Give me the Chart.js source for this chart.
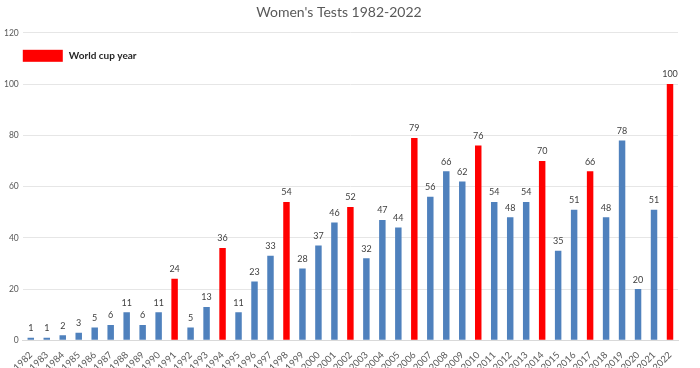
<!DOCTYPE html>
<html>
<head>
<meta charset="utf-8">
<script src="https://cdn.jsdelivr.net/npm/chart.js@4/dist/chart.umd.min.js"></script>
<style>
  html, body { margin: 0; padding: 0; background: #fff; }
  #wrap { width: 700px; height: 368px; }
</style>
</head>
<body>
<div id="wrap"><canvas id="testsChart" width="700" height="368"></canvas></div>
<script>
const years = ['1982','1983','1984','1985','1986','1987','1988','1989','1990','1991',
  '1992','1993','1994','1995','1996','1997','1998','1999','2000','2001',
  '2002','2003','2004','2005','2006','2007','2008','2009','2010','2011',
  '2012','2013','2014','2015','2016','2017','2018','2019','2020','2021','2022'];
const tests = [1, 1, 2, 3, 5, 6, 11, 6, 11, 24,
  5, 13, 36, 11, 23, 33, 54, 28, 37, 46,
  52, 32, 47, 44, 79, 56, 66, 62, 76, 54,
  48, 54, 70, 35, 51, 66, 48, 78, 20, 51, 100];
const worldCupYears = ['1991','1994','1998','2002','2006','2010','2014','2017','2022'];
const yTicks = [0, 20, 40, 60, 80, 100, 120];

const blue = '#4f81bd';
const red = '#ff0000';
const barColors = years.map(y => worldCupYears.includes(y) ? red : blue);

// numbers above the bars and the legend box inside the plot
const extras = {
  id: 'extras',
  afterDatasetsDraw(chart) {
    const ctx = chart.ctx;
    const meta = chart.getDatasetMeta(0);
    const area = chart.chartArea;
    ctx.save();
    ctx.font = '9px Lato, sans-serif';
    ctx.fillStyle = '#404040';
    ctx.textAlign = 'center';
    ctx.textBaseline = 'bottom';
    meta.data.forEach((bar, i) => {
      ctx.fillText(tests[i], bar.x, bar.y - 5);
    });

    ctx.fillStyle = red;
    ctx.fillRect(area.left, area.top + 17, 40, 12);
    ctx.fillStyle = '#262626';
    ctx.font = 'bold 10px Lato, sans-serif';
    ctx.textAlign = 'left';
    ctx.textBaseline = 'middle';
    ctx.fillText('World cup year', area.left + 46, area.top + 23);
    ctx.restore();
  }
};

new Chart(document.getElementById('testsChart').getContext('2d'), {
  type: 'bar',
  data: {
    labels: years,
    datasets: [{
      label: 'Tests',
      data: tests,
      backgroundColor: barColors,
      barPercentage: 0.45,
      categoryPercentage: 0.9
    }]
  },
  options: {
    responsive: false,
    animation: false,
    layout: { padding: { left: 0, right: 22, top: 0, bottom: -6 } },
    plugins: {
      title: {
        display: true,
        text: "Women's Tests 1982-2022",
        color: '#595959',
        font: { family: 'Lato, sans-serif', size: 14, weight: 'normal' },
        padding: { top: 4, bottom: 12 }
      },
      legend: { display: false },
      tooltip: { enabled: false }
    },
    scales: {
      x: {
        grid: { display: false },
        border: { color: '#d9d9d9' },
        ticks: {
          color: '#595959',
          font: { family: 'Lato, sans-serif', size: 9.5 },
          minRotation: 45,
          maxRotation: 45,
          autoSkip: false,
          padding: 1
        }
      },
      y: {
        min: 0,
        max: 120,
        afterBuildTicks: axis => { axis.ticks = yTicks.map(v => ({ value: v })); },
        grid: { color: '#e6e6e6', drawTicks: false },
        border: { display: false },
        ticks: {
          color: '#595959',
          font: { family: 'Lato, sans-serif', size: 8.5 },
          padding: 4
        }
      }
    }
  },
  plugins: [extras]
});
</script>
</body>
</html>
